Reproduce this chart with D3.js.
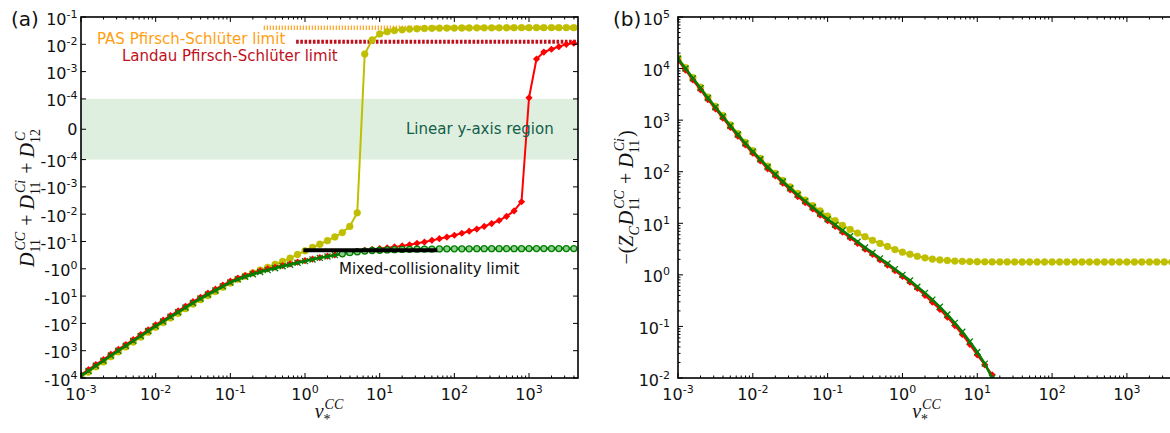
<!DOCTYPE html>
<html><head><meta charset="utf-8">
<script src="https://cdn.jsdelivr.net/npm/d3@7/dist/d3.min.js"></script>
<style>html,body{margin:0;padding:0;background:#fff;overflow:hidden}svg{display:block}text{white-space:pre}</style>
</head><body>
<svg id="c" width="1170" height="433"></svg>
<script>
// ---------------- DATA ----------------
const nu = [0.001,0.00126,0.00158,0.002,0.00251,0.00316,0.00398,0.00501,0.00631,0.00794,
  0.01,0.0126,0.0158,0.02,0.0251,0.0316,0.0398,0.0501,0.0631,0.0794,
  0.1,0.126,0.158,0.2,0.251,0.316,0.398,0.501,0.631,0.794,
  1,1.26,1.58,2,2.51,3.16,3.98,5.01,6.31,7.94,
  10,12.6,15.8,20,25.1,31.6,39.8,50.1,63.1,79.4,
  100,126,158,200,251,316,398,501,631,794,
  1000,1260,1580,2000,2510,3160,3980];

// panel (a): D11^CC + D11^Ci + D12^C
const yellowA = [-9100,-6050,-3900,-2570,-1660,-1100,-726,-480,-317,-210,
  -139,-93.5,-63,-42.8,-28.9,-19.6,-13.5,-9.6,-6.8,-4.7,
  -3.3,-2.4,-1.84,-1.41,-1.12,-0.89,-0.69,-0.54,-0.41,-0.30,
  -0.219,-0.166,-0.126,-0.093,-0.068,-0.047,-0.028,-0.0089,0.0044,0.0145,
  0.024,0.029,0.032,0.034,0.036,0.037,0.038,0.0385,0.039,0.0392,
  0.0394,0.0396,0.0398,0.04,0.04,0.0402,0.0403,0.0404,0.0405,0.0406,
  0.0406,0.0407,0.0407,0.0408,0.0408,0.0408,0.0408];
const redA = [-7500,-4950,-3200,-2100,-1360,-900,-595,-393,-259,-172,
  -113,-76.5,-51.8,-35,-23.7,-16,-11.1,-7.8,-5.6,-3.96,
  -2.84,-2.2,-1.76,-1.42,-1.19,-1.01,-0.88,-0.76,-0.66,-0.57,
  -0.50,-0.44,-0.39,-0.345,-0.31,-0.278,-0.251,-0.229,-0.209,-0.195,
  -0.182,-0.170,-0.158,-0.145,-0.132,-0.117,-0.105,-0.091,-0.079,-0.069,
  -0.059,-0.050,-0.042,-0.035,-0.028,-0.022,-0.017,-0.012,-0.0076,-0.0035,
  0.00011,0.0029,0.0052,0.0066,0.0082,0.010,0.011];
const greenA = [-8300,-5500,-3550,-2340,-1510,-1000,-660,-437,-288,-191,
  -126,-85,-57.5,-38.9,-26.3,-17.8,-12.3,-8.7,-6.2,-4.4,
  -3.16,-2.45,-1.95,-1.58,-1.32,-1.12,-0.955,-0.81,-0.71,-0.60,
  -0.525,-0.457,-0.398,-0.355,-0.316,-0.282,-0.257,-0.240,-0.224,-0.214,
  -0.209,-0.204,-0.200,-0.196,-0.194,-0.191,-0.190,-0.189,-0.187,-0.186,
  -0.186,-0.185,-0.185,-0.184,-0.184,-0.184,-0.183,-0.183,-0.183,-0.183,
  -0.182,-0.182,-0.182,-0.182,-0.182,-0.182,-0.182];
const pasNu = [0.28, 4530], pasVal = [0.04, 0.04];
const landauNu = [0.76, 4530], landauVal = [0.0125, 0.0125];
const mixedNu = [0.95, 59], mixedVal = [-0.21, -0.21];

// panel (b): -(Z_C D11^CC + D11^Ci)
const yellowB = [16100,10400,6700,4340,2800,1850,1220,807,546,369,
  255,181,128,92.6,67.5,50.5,37.8,28.2,21.9,17.4,
  13.8,11.2,9.1,7.6,6.46,5.5,4.68,4.07,3.55,3.09,
  2.75,2.51,2.29,2.14,2.02,1.95,1.90,1.85,1.83,1.81,
  1.795,1.79,1.785,1.78,1.78,1.78,1.775,1.775,1.775,1.775,
  1.775,1.775,1.775,1.775,1.775,1.775,1.775,1.775,1.775,1.775,
  1.775,1.775,1.775,1.775,1.775,1.775,1.775];
const redB = [14400,9300,6000,3880,2500,1655,1090,722,488,330,
  228,162,114,82.8,60,44.5,33,25,19,14.4,
  11.2,8.7,6.7,5.2,4.06,3.15,2.5,1.94,1.54,1.2,
  0.93,0.72,0.548,0.398,0.295,0.214,0.151,0.104,0.070,0.045,
  0.028,0.018,0.0115,0.005];
const greenB = [15500,10000,6460,4170,2690,1780,1175,776,525,355,
  245,174,123,89,64.6,47.9,35.5,26.9,20.4,15.5,
  12.0,9.33,7.24,5.62,4.37,3.39,2.69,2.09,1.66,1.29,
  1.0,0.776,0.589,0.447,0.331,0.240,0.170,0.117,0.079,0.051,
  0.032,0.019,0.010,0.004];

const xTickVals = [1e-3,1e-2,1e-1,1,10,100,1000];
const xTickExp = ['-3','-2','-1','0','1','2','3'];
const yTickValsA = [0.1,0.01,0.001,1e-4,0,-1e-4,-1e-3,-1e-2,-0.1,-1,-10,-100,-1000,-1e4];
const yTickLabA = [['10','-1'],['10','-2'],['10','-3'],['10','-4'],['0',''],['-10','-4'],['-10','-3'],['-10','-2'],['-10','-1'],['-10','0'],['-10','1'],['-10','2'],['-10','3'],['-10','4']];
const yTickValsB = [1e-2,1e-1,1,10,100,1e3,1e4,1e5];
const yTickExpB = ['-2','-1','0','1','2','3','4','5'];

// ---------------- LAYOUT ----------------
const svg = d3.select('#c');
const FONT = 'DejaVu Sans', MATH = 'Liberation Serif';
const PA = {l:81, r:578, t:17, b:378}, PB = {l:678, r:1176, t:17, b:378};
const xDom = [1e-3, 4530];
const xA = d3.scaleLog().domain(xDom).range([PA.l, PA.r]);
const xB = d3.scaleLog().domain(xDom).range([PB.l, PB.r]);
const LT = 1e-4, LS = 1/(1-0.1);
const symT = v => { const a = Math.abs(v); return a <= LT ? v/LT*LS : Math.sign(v)*(LS + Math.log10(a/LT)); };
const yAlin = d3.scaleLinear().domain([symT(-1e4), symT(0.1)]).range([PA.b, PA.t]);
const yA = v => yAlin(symT(v));
const yB = d3.scaleLog().domain([1e-2, 1e5]).range([PB.b, PB.t]);

const defs = svg.append('defs');
[['clipA',PA],['clipB',PB]].forEach(([id,P]) => defs.append('clipPath').attr('id',id)
  .append('rect').attr('x',P.l).attr('y',P.t).attr('width',P.r-P.l).attr('height',P.b-P.t));

const YEL = '#bfbf00', RED = '#ff0000', GRN = '#008000';

function drawLine(g, xs, ys, x, y, color, w, dash) {
  const pts = xs.map((v,i)=>[x(v), y(ys[i])]);
  const p = g.append('path').attr('d', d3.line()(pts)).attr('fill','none')
    .attr('stroke', color).attr('stroke-width', w).attr('stroke-linejoin','round');
  if (dash) p.attr('stroke-dasharray', dash);
  return pts;
}
function circles(g, pts, r, fill, stroke, sw) {
  g.selectAll(null).data(pts).enter().append('circle').attr('cx',d=>d[0]).attr('cy',d=>d[1])
    .attr('r', r).attr('fill', fill).attr('stroke', stroke).attr('stroke-width', sw);
}
function diamonds(g, pts, s, color) {
  g.selectAll(null).data(pts).enter().append('path')
    .attr('d', d=>`M${d[0]},${d[1]-s}L${d[0]+s},${d[1]}L${d[0]},${d[1]+s}L${d[0]-s},${d[1]}Z`)
    .attr('fill', color);
}
function crosses(g, pts, s, color, sw) {
  g.selectAll(null).data(pts).enter().append('path')
    .attr('d', d=>`M${d[0]-s},${d[1]-s}L${d[0]+s},${d[1]+s}M${d[0]-s},${d[1]+s}L${d[0]+s},${d[1]-s}`)
    .attr('stroke', color).attr('stroke-width', sw).attr('fill','none');
}

function xAxis(x, P) {
  const g = svg.append('g').attr('stroke','#000').attr('stroke-width',1);
  const minors = [];
  for (let e=-3; e<=3; e++) for (let m=2; m<=9; m++) { const v = m*Math.pow(10,e); if (v < xDom[1]) minors.push(v); }
  xTickVals.forEach(v => { const px = x(v);
    g.append('line').attr('x1',px).attr('x2',px).attr('y1',P.b).attr('y2',P.b-5);
    g.append('line').attr('x1',px).attr('x2',px).attr('y1',P.t).attr('y2',P.t+5); });
  minors.forEach(v => { const px = x(v);
    g.append('line').attr('x1',px).attr('x2',px).attr('y1',P.b).attr('y2',P.b-2.5);
    g.append('line').attr('x1',px).attr('x2',px).attr('y1',P.t).attr('y2',P.t+2.5); });
  xTickVals.forEach((v,i) => {
    const t = svg.append('text').attr('x', x(v)).attr('y', P.b+22).attr('text-anchor','middle')
      .attr('font-family',FONT).attr('font-size',16).attr('fill','#111');
    t.append('tspan').text('10');
    t.append('tspan').attr('dy',-7).attr('font-size',11).text(xTickExp[i]);
  });
}

function mathText(parent, parts, size) {
  const g = parent.append('g').attr('font-family', MATH).attr('fill', '#111');
  let x = 0;
  for (const p of parts) {
    if (p.gap) { x += p.gap; continue; }
    if (p.t !== undefined) {
      const t = g.append('text').attr('x',x).attr('y',0).attr('font-size',size)
        .attr('font-style', p.it ? 'italic' : 'normal').text(p.t);
      x += t.node().getComputedTextLength();
    }
    if (p.sup !== undefined || p.sub !== undefined) {
      let w = 0;
      if (p.sup !== undefined) {
        const dx = p.supdx || 0;
        const t = g.append('text').attr('x',x+dx).attr('y',-0.45*size).attr('font-size',0.7*size)
          .attr('font-style','italic').text(p.sup);
        w = Math.max(w, t.node().getComputedTextLength()+dx);
      }
      if (p.sub !== undefined) {
        const t = g.append('text').attr('x',x).attr('y',0.3*size).attr('font-size',0.7*size)
          .attr('font-style', p.subit ? 'italic' : 'normal').text(p.sub);
        w = Math.max(w, t.node().getComputedTextLength());
      }
      x += w + 1;
    }
  }
  return {g, w:x};
}

// ---------------- PANEL (a) ----------------
const gA = svg.append('g').attr('clip-path','url(#clipA)');
gA.append('rect').attr('x',PA.l).attr('width',PA.r-PA.l).attr('y',yA(1e-4)).attr('height',yA(-1e-4)-yA(1e-4))
  .attr('fill','rgb(0,128,0)').attr('fill-opacity',0.125);
drawLine(gA, pasNu, pasVal, xA, yA, '#ffa31a', 4.5, '1.2,1.8');
drawLine(gA, landauNu, landauVal, xA, yA, '#c0101c', 4, '2.6,1.6');

const pYA = drawLine(gA, nu, yellowA, xA, yA, YEL, 2);
circles(gA, pYA, 3.4, YEL, YEL, 0.5);
const pRA = drawLine(gA, nu, redA, xA, yA, RED, 2);
diamonds(gA, pRA, 3.6, RED);
const pGA = drawLine(gA, nu, greenA, xA, yA, GRN, 2.5);
crosses(gA, pGA.filter((d,i)=>nu[i] < 3), 3, GRN, 1.3);
circles(gA, pGA.filter((d,i)=>nu[i] >= 3), 3, '#8fcf8f', GRN, 1.3);
drawLine(gA, mixedNu, mixedVal, xA, yA, '#000', 4);

// texts panel a
svg.append('text').attr('x',97).attr('y',44).attr('font-family',FONT).attr('font-size',15)
  .attr('fill','#ffa010').text('PAS Pfirsch-Schlüter limit');
svg.append('text').attr('x',122).attr('y',61).attr('font-family',FONT).attr('font-size',15)
  .attr('fill','#c0101c').text('Landau Pfirsch-Schlüter limit');
svg.append('text').attr('x',406).attr('y',134).attr('font-family',FONT).attr('font-size',15)
  .attr('fill','#125e4a').text('Linear y-axis region');
svg.append('text').attr('x',339).attr('y',274).attr('font-family',FONT).attr('font-size',15)
  .attr('fill','#111').text('Mixed-collisionality limit');

// y axis a
{
  const g = svg.append('g').attr('stroke','#000').attr('stroke-width',1);
  yTickValsA.forEach((v,i) => { const py = yA(v);
    g.append('line').attr('x1',PA.l).attr('x2',PA.l+5).attr('y1',py).attr('y2',py);
    g.append('line').attr('x1',PA.r).attr('x2',PA.r-5).attr('y1',py).attr('y2',py);
    const lab = yTickLabA[i];
    const t = svg.append('text').attr('x',77.5).attr('y', py + (lab[1]==='' ? 6 : 7.5)).attr('text-anchor','end')
      .attr('font-family',FONT).attr('font-size',16).attr('fill','#111');
    t.append('tspan').text(lab[0]);
    if (lab[1] !== '') t.append('tspan').attr('dy',-7).attr('font-size',11).text(lab[1]);
  });
}
xAxis(xA, PA);
svg.append('rect').attr('x',PA.l).attr('y',PA.t).attr('width',PA.r-PA.l).attr('height',PA.b-PA.t)
  .attr('fill','none').attr('stroke','#000').attr('stroke-width',1.6);

// ---------------- PANEL (b) ----------------
const gB = svg.append('g').attr('clip-path','url(#clipB)');
const pYB = drawLine(gB, nu, yellowB, xB, yB, YEL, 2);
circles(gB, pYB, 3.4, YEL, YEL, 0.5);
const pRB = drawLine(gB, nu.slice(0, redB.length), redB, xB, yB, RED, 2);
diamonds(gB, pRB, 3.6, RED);
const pGB = drawLine(gB, nu.slice(0, greenB.length), greenB, xB, yB, GRN, 2.5);
crosses(gB, pGB, 3, GRN, 1.3);

{
  const g = svg.append('g').attr('stroke','#000').attr('stroke-width',1);
  yTickValsB.forEach((v,i) => { const py = yB(v);
    g.append('line').attr('x1',PB.l).attr('x2',PB.l+5).attr('y1',py).attr('y2',py);
    g.append('line').attr('x1',PB.r).attr('x2',PB.r-5).attr('y1',py).attr('y2',py);
    const t = svg.append('text').attr('x',670).attr('y', py + 7.5).attr('text-anchor','end')
      .attr('font-family',FONT).attr('font-size',16).attr('fill','#111');
    t.append('tspan').text('10');
    t.append('tspan').attr('dy',-7).attr('font-size',11).text(yTickExpB[i]);
  });
  for (let e=-2; e<5; e++) for (let m=2; m<=9; m++) { const py = yB(m*Math.pow(10,e));
    g.append('line').attr('x1',PB.l).attr('x2',PB.l+2.5).attr('y1',py).attr('y2',py);
    g.append('line').attr('x1',PB.r).attr('x2',PB.r-2.5).attr('y1',py).attr('y2',py); }
}
xAxis(xB, PB);
svg.append('rect').attr('x',PB.l).attr('y',PB.t).attr('width',PB.r-PB.l).attr('height',PB.b-PB.t)
  .attr('fill','none').attr('stroke','#000').attr('stroke-width',1.6);

// ---------------- LABELS ----------------
svg.append('text').attr('x',11).attr('y',26).attr('font-family',FONT).attr('font-size',20).attr('fill','#111').text('(a)');
svg.append('text').attr('x',613).attr('y',26).attr('font-family',FONT).attr('font-size',20).attr('fill','#111').text('(b)');

{
  const m = mathText(svg, [{t:'D',it:true},{sub:'11',sup:'CC',supdx:2},{gap:5},{t:'+'},{gap:5},{t:'D',it:true},{sub:'11',sup:'Ci',supdx:2},{gap:5},{t:'+'},{gap:5},{t:'D',it:true},{sub:'12',sup:'C',supdx:2}], 20);
  m.g.attr('transform', `translate(34,${(PA.t+PA.b)/2 + m.w/2}) rotate(-90)`);
}
{
  const m = mathText(svg, [{t:'−('},{t:'Z',it:true},{sub:'C',subit:true},{t:'D',it:true},{sub:'11',sup:'CC',supdx:2},{gap:5},{t:'+'},{gap:5},{t:'D',it:true},{sub:'11',sup:'Ci',supdx:2},{t:')'}], 20);
  m.g.attr('transform', `translate(633,${(PB.t+PB.b)/2 + m.w/2}) rotate(-90)`);
}
{
  const m = mathText(svg, [{t:'ν',it:true},{sub:'*',sup:'CC',supdx:1}], 20);
  m.g.attr('transform', `translate(${(PA.l+PA.r)/2 - m.w/2},418)`);
  const m2 = mathText(svg, [{t:'ν',it:true},{sub:'*',sup:'CC',supdx:1}], 20);
  m2.g.attr('transform', `translate(${(PB.l+PB.r)/2 - m2.w/2},418)`);
}
</script>
</body></html>
